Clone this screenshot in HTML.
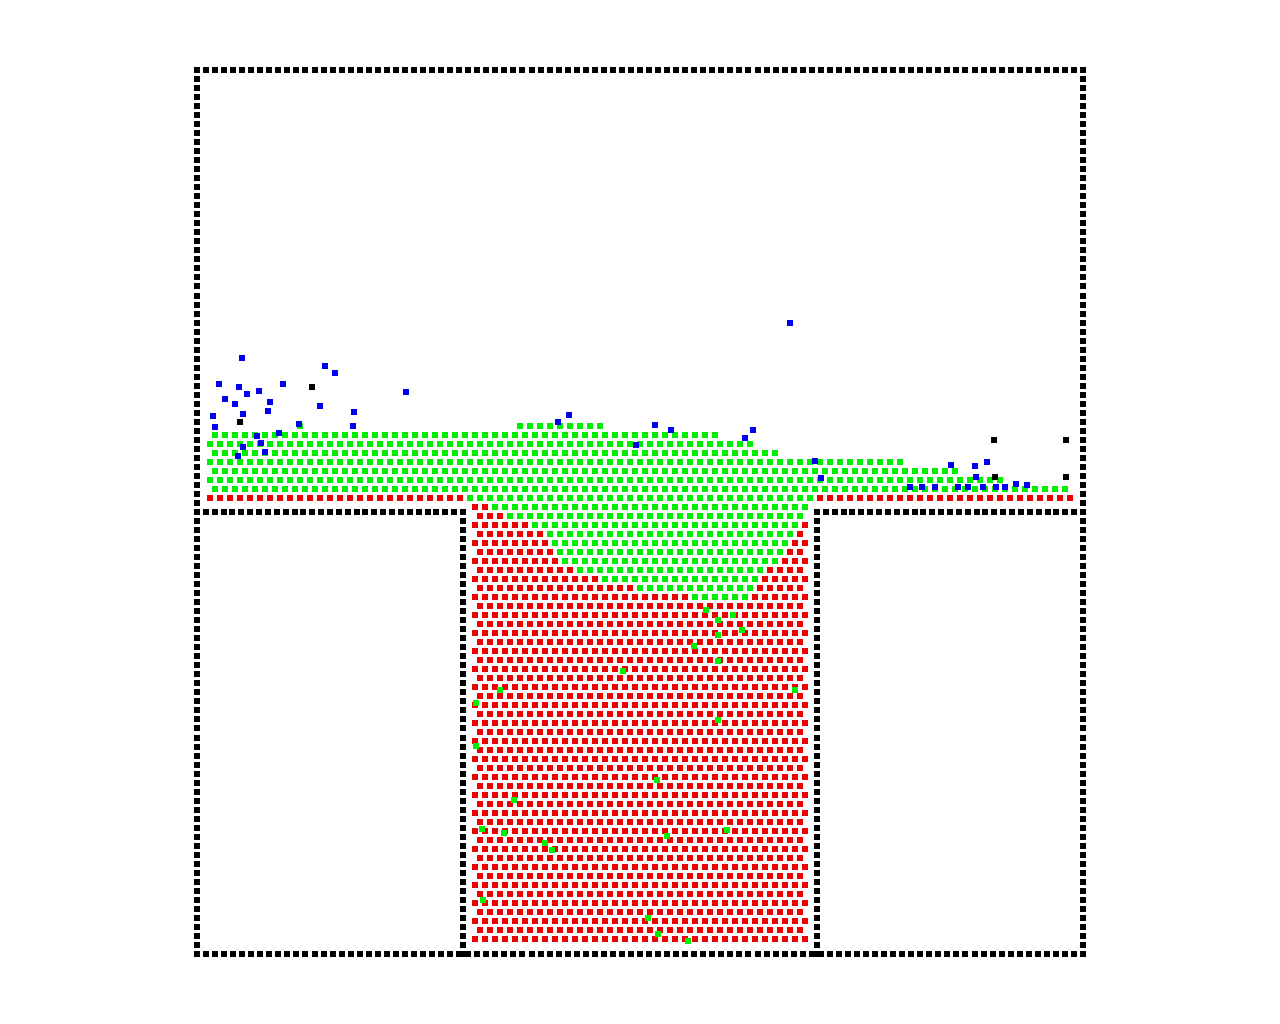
<!DOCTYPE html>
<html><head><meta charset="utf-8"><style>html,body{margin:0;padding:0;background:#fff;width:1280px;height:1024px;overflow:hidden}</style></head>
<body>
<svg id="chart" width="1280" height="1024" xmlns="http://www.w3.org/2000/svg"></svg>
<script>
// wall segments: [x1,y1,x2,y2]
const wallSegments=[[197,70,1083,70],[197,70,197,954],[1083,70,1083,954],[197,954,1083,954],[197,512,463,512],[463,512,463,954],[817,512,1083,512],[817,512,817,954]];
// free surface of fluid (x, y)
const surfaceX=[207,300,460,550,700,760,800,830,900,950,1000,1075];
const surfaceY=[432,426,428,425,428,445,458,455,462,468,480,486];
// green/red interface inside well
const interfaceX=[474,488,500,540,560,620,700,740,770,790,806];
const interfaceY=[505,505,515,530,565,585,598,605,570,540,515];
const blueX=[242,219,239,247,259,283,225,235,270,213,243,268,215,257,279,299,243,261,238,265,325,335,320,354,353,406,569,558,655,671,636,745,753,790,815,821,951,975,987,910,922,935,958,968,983,996,1005,1016,1027,976];
const blueY=[358,384,387,394,391,384,399,404,402,416,414,411,427,436,433,424,447,443,456,452,366,373,406,412,426,392,415,422,425,430,445,438,430,323,461,478,465,466,462,487,487,487,487,487,487,487,487,484,485,477];
const blackX=[312,240,994,1066,995,1066];
const blackY=[387,422,440,440,477,477];
const strayGreenX=[623,694,718,795,500,476,514,482,504,545,552,667,727,483,648,658,688,476,718,657,718,733,742,706,718];
const strayGreenY=[671,646,661,690,690,703,800,829,833,843,850,836,830,900,918,934,941,746,720,780,620,615,630,610,635];

const svg=document.getElementById('chart');
const NS='http://www.w3.org/2000/svg';
function interp(xs,ys,x){if(x<=xs[0])return ys[0];for(let i=1;i<xs.length;i++){if(x<=xs[i]){const t=(x-xs[i-1])/(xs[i]-xs[i-1]);return ys[i-1]+t*(ys[i]-ys[i-1]);}}return ys[ys.length-1];}
function sq(x,y,c,name){const r=document.createElementNS(NS,'rect');r.setAttribute('x',Math.round(x-3));r.setAttribute('y',Math.round(y-3));r.setAttribute('width',6);r.setAttribute('height',6);r.setAttribute('fill',c);


svg.appendChild(r);}
wallSegments.forEach(s=>{const len=Math.hypot(s[2]-s[0],s[3]-s[1]);const n=Math.round(len/9);for(let i=0;i<=n;i++){sq(s[0]+(s[2]-s[0])*i/n,s[1]+(s[3]-s[1])*i/n,'#000','wall-particle');}});
for(let row=0;row*9+426<=945;row++){const y=426+row*9;const off=(row%2)*5;
 for(let x=210+off;x<=1074;x+=10){
  if(y<=505){ if(y<interp(surfaceX,surfaceY,x))continue;
    if(y>=494&&(x<462||x>818))sq(x,498,'#ee0000','fluid-red');
    else if(y<494) sq(x,y,'#00ee00','fluid-green');
    else if(x>=468&&x<=812) sq(x,y,'#00ee00','fluid-green');
  } else { if(x<474||x>806)continue;
    if(y<interp(interfaceX,interfaceY,x))sq(x,y,'#00ee00','fluid-green');else sq(x,y,'#ee0000','fluid-red');}
 }}
strayGreenX.forEach((x,i)=>sq(x,strayGreenY[i],'#00ee00','stray-green'));
blueX.forEach((x,i)=>sq(x,blueY[i],'#0000ee','splash-blue'));
blackX.forEach((x,i)=>sq(x,blackY[i],'#000','loose-black'));
</script>
</body></html>
